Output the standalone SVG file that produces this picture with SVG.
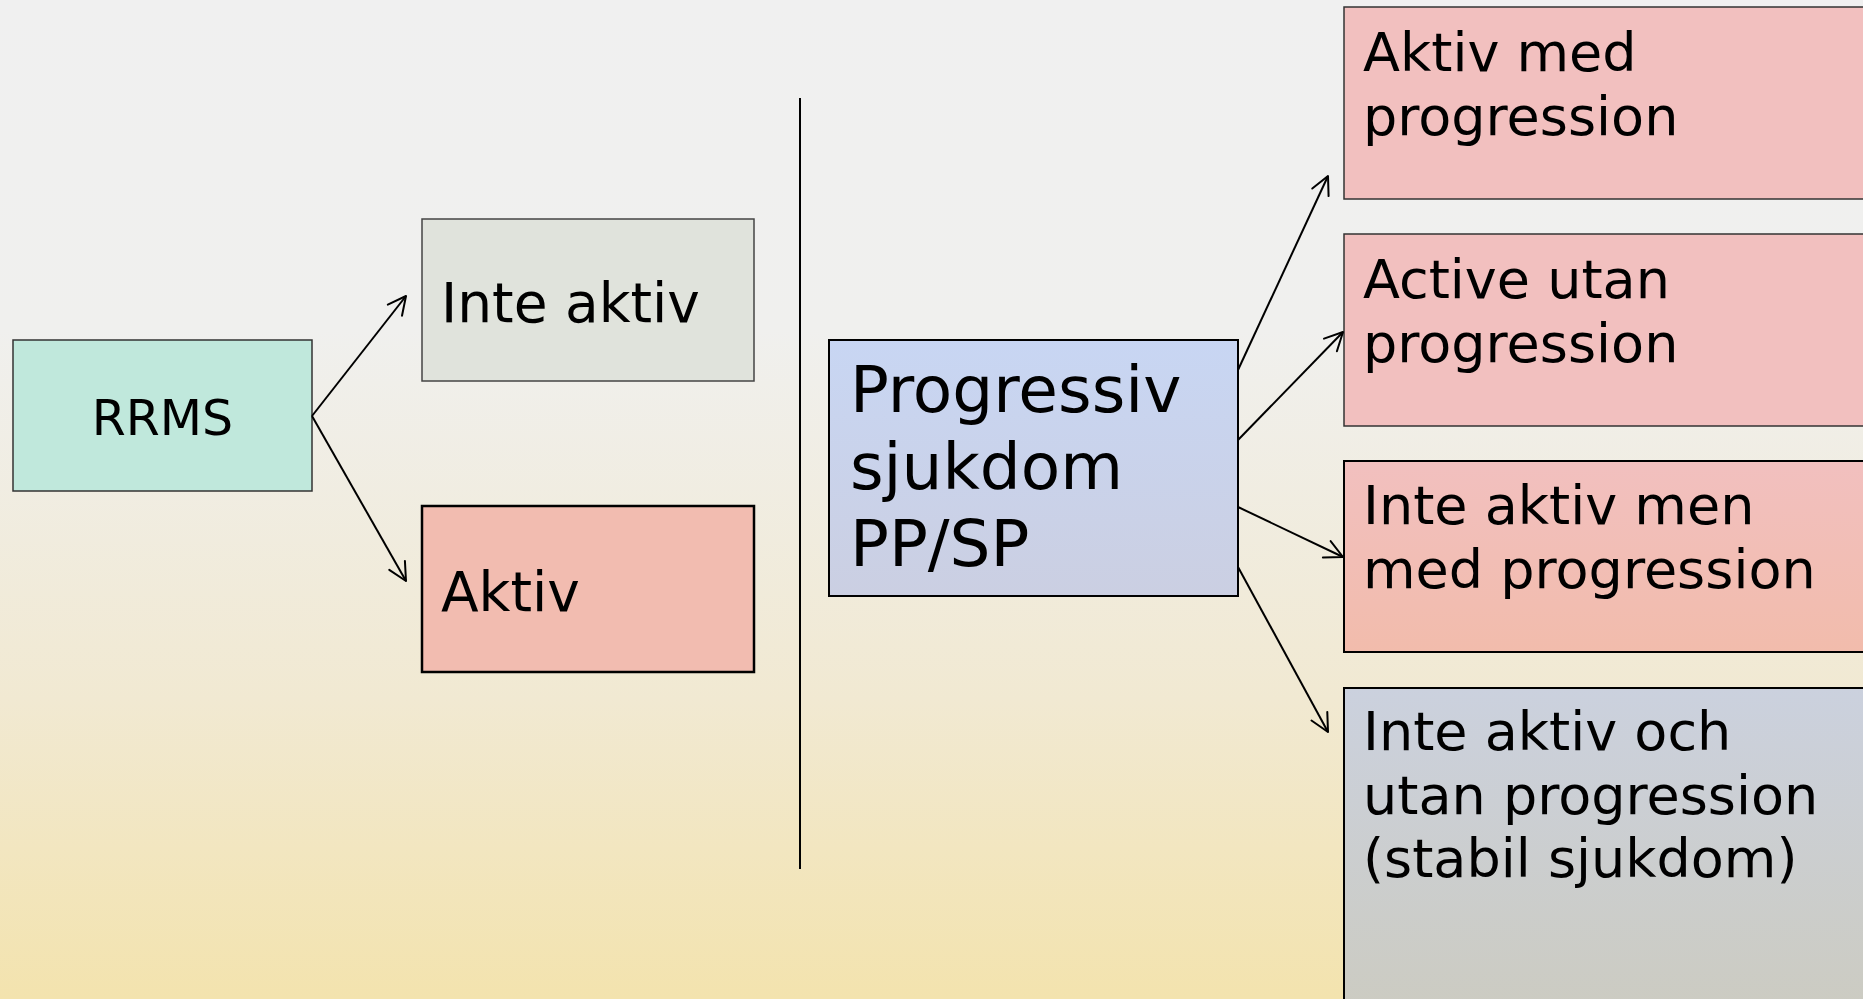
<svg xmlns="http://www.w3.org/2000/svg" width="1863" height="999" viewBox="0 0 1863 999">
  <defs>
    <linearGradient id="bg" x1="0" y1="0" x2="0" y2="1">
      <stop offset="0" stop-color="#f0f0f0"/>
      <stop offset="0.33" stop-color="#f0f0ee"/>
      <stop offset="0.7" stop-color="#f1e9d2"/>
      <stop offset="1" stop-color="#f3e3ae"/>
    </linearGradient>
    <linearGradient id="gProg" x1="0" y1="0" x2="0" y2="1">
      <stop offset="0" stop-color="#c8d6f3"/>
      <stop offset="1" stop-color="#cbcfe2"/>
    </linearGradient>
    <linearGradient id="gMen" x1="0" y1="0" x2="0" y2="1">
      <stop offset="0" stop-color="#f2c0bf"/>
      <stop offset="1" stop-color="#f2bcac"/>
    </linearGradient>
    <linearGradient id="gOch" x1="0" y1="0" x2="0" y2="1">
      <stop offset="0" stop-color="#cbd1de"/>
      <stop offset="1" stop-color="#cccbc0"/>
    </linearGradient>
    <marker id="arr" markerUnits="userSpaceOnUse" markerWidth="24" markerHeight="24" viewBox="0 0 24 24" refX="20" refY="12" orient="auto">
      <path d="M2,3 L20,12 L2,21" fill="none" stroke="#000" stroke-width="2" stroke-linecap="round" stroke-linejoin="round"/>
    </marker>
  </defs>
  <style>
    text { font-family: "DejaVu Sans", "Liberation Sans", sans-serif; fill: #000; }
    .t54 { font-size: 54px; }
    .conn line { stroke: #000; stroke-width: 2; fill: none; }
  </style>
  <rect x="0" y="0" width="1863" height="999" fill="url(#bg)"/>

  <g id="divider">
    <line x1="800" y1="98" x2="800" y2="869" stroke="#000" stroke-width="2"/>
  </g>

  <g id="rrms">
    <rect x="13" y="340" width="299" height="151" fill="#c0e8dc" stroke="#333" stroke-width="1.5"/>
    <text x="162.5" y="435" font-size="49" text-anchor="middle">RRMS</text>
  </g>

  <g id="inte-aktiv">
    <rect x="422" y="219" width="332" height="162" fill="#e0e3dc" stroke="#444" stroke-width="1.5"/>
    <text x="441" y="322" font-size="55">Inte aktiv</text>
  </g>

  <g id="aktiv">
    <rect x="422" y="506" width="332" height="166" fill="#f2bcb0" stroke="#000" stroke-width="2.5"/>
    <text x="441" y="611" font-size="55">Aktiv</text>
  </g>

  <g id="progressiv">
    <rect x="829" y="340" width="409" height="256" fill="url(#gProg)" stroke="#000" stroke-width="2"/>
    <text x="850" y="412" font-size="64.5">Progressiv<tspan x="850" dy="77">sjukdom</tspan><tspan x="850" dy="77">PP/SP</tspan></text>
  </g>

  <g id="aktiv-med">
    <rect x="1344" y="7" width="560" height="192" fill="#f2c0bf" stroke="#333" stroke-width="1.5"/>
    <text class="t54" x="1363" y="71">Aktiv med<tspan x="1363" dy="64">progression</tspan></text>
  </g>

  <g id="active-utan">
    <rect x="1344" y="234" width="560" height="192" fill="#f2c0bf" stroke="#333" stroke-width="1.5"/>
    <text class="t54" x="1363" y="298">Active utan<tspan x="1363" dy="63.5">progression</tspan></text>
  </g>

  <g id="inte-aktiv-men">
    <rect x="1344" y="461" width="560" height="191" fill="url(#gMen)" stroke="#000" stroke-width="2"/>
    <text class="t54" x="1363" y="524">Inte aktiv men<tspan x="1363" dy="63.5">med progression</tspan></text>
  </g>

  <g id="inte-aktiv-och">
    <rect x="1344" y="688" width="560" height="340" fill="url(#gOch)" stroke="#000" stroke-width="2"/>
    <text class="t54" x="1363" y="750">Inte aktiv och<tspan x="1363" dy="63.5">utan progression</tspan><tspan x="1363" dy="63.5">(stabil sjukdom)</tspan></text>
  </g>

  <g id="connectors" class="conn">
    <line x1="312" y1="416" x2="406" y2="296" marker-end="url(#arr)"/>
    <line x1="312" y1="416" x2="406" y2="581" marker-end="url(#arr)"/>
    <line x1="1238" y1="370" x2="1328" y2="176" marker-end="url(#arr)"/>
    <line x1="1238" y1="440" x2="1343" y2="332" marker-end="url(#arr)"/>
    <line x1="1238" y1="507" x2="1343" y2="557" marker-end="url(#arr)"/>
    <line x1="1238" y1="567" x2="1328" y2="732" marker-end="url(#arr)"/>
  </g>
</svg>
